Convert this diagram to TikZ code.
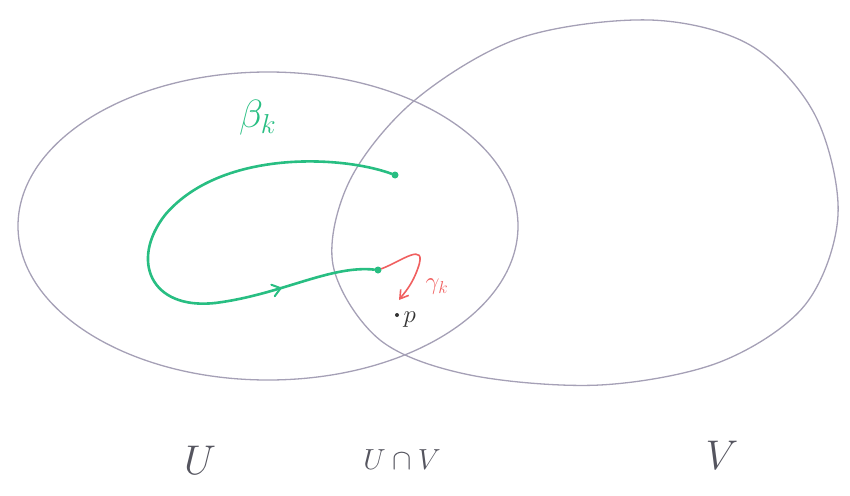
\documentclass[tikz,border=0pt]{standalone}
\usepackage{graphicx}
\usetikzlibrary{decorations.markings,arrows.meta}
\definecolor{pencil}{RGB}{165,160,182}
\definecolor{grn}{RGB}{40,190,130}
\definecolor{rd}{RGB}{240,95,95}
\definecolor{lbl}{RGB}{85,85,95}
\tikzset{
  setline/.style={draw=pencil, line width=1.3pt},
  pathgreen/.style={draw=grn, line width=2.6pt, line cap=round},
  pathred/.style={draw=rd, line width=1.6pt, line cap=round},
  dotnode/.style={circle, inner sep=0pt, minimum size=7pt},
  setlabel/.style={text=lbl, font=\huge},
}
\begin{document}
\begin{tikzpicture}[x=1pt,y=-1pt]
\useasboundingbox (0,0) rectangle (850,495);
% set U
\draw[setline] (268,226) ellipse [x radius=250, y radius=154];
% set V
\draw[setline] plot[smooth cycle, tension=0.55] coordinates {(650,20) (750,45) (815,115) (838,215) (805,305) (720,362) (600,385) (470,375) (380,340) (333,265) (350,180) (415,100) (520,38)};
% endpoints
\node[dotnode, fill=grn] (s) at (395,175) {};
\node[dotnode, fill=grn] (e) at (378,270) {};
\coordinate (m1) at (165,215);
\coordinate (m2) at (215,303);
\coordinate (pe) at (399,300);
% beta_k
\draw[pathgreen] (s) .. controls (340,155) and (220,150) .. (m1)
  .. controls (130,260) and (150,310) .. (m2);
\draw[pathgreen, postaction={decorate}, decoration={markings, mark=at position 0.4 with {\draw[grn, line width=2pt] (-6pt,-6pt) -- (2pt,0pt) -- (-6pt,6pt);}}]
  (m2) .. controls (280,295) and (330,265) .. (e);
% gamma_k
\draw[pathred, -{Straight Barb[length=8pt,width=10pt]}] (e) .. controls (400,262) and (428,240) .. (418,268) .. controls (412,285) and (405,292) .. (pe);
% point p
\node[circle, fill=black!80, inner sep=0pt, minimum size=4pt] (p) at (397,315) {};
\node[text=black!80, font=\huge, anchor=west] (plabel) at (400,320) {\scalebox{1.2}{$p$}};
% labels
\node[text=grn, font=\huge] (blabel) at (258,118) {\scalebox{1.9}{$\beta_k$}};
\node[text=rd, font=\huge] (glabel) at (437,287) {\scalebox{1.2}{$\gamma_k$}};
\node[setlabel] (Ulabel) at (200,460) {\scalebox{2.0}{$U$}};
\node[setlabel] (UVlabel) at (402,460) {\scalebox{1.4}{$U\cap V$}};
\node[setlabel] (Vlabel) at (722,455) {\scalebox{2.0}{$V$}};
\end{tikzpicture}
\end{document}
